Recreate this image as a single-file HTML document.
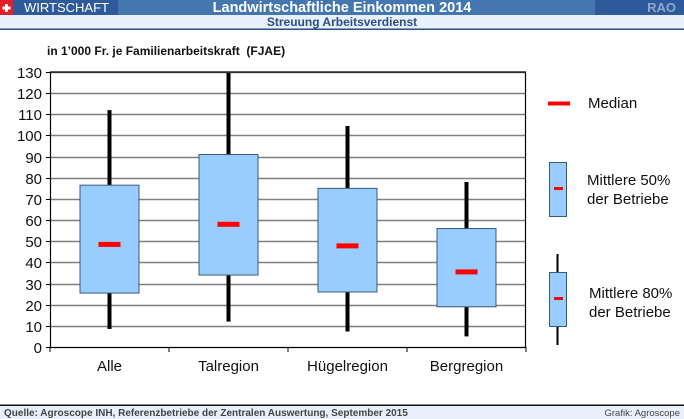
<!DOCTYPE html>
<html><head><meta charset="utf-8"><style>
body{margin:0;width:684px;height:419px;overflow:hidden;background:#fff;font-family:"Liberation Sans",Arial,sans-serif;}
svg{display:block}
</style></head><body>
<svg id="c" width="684" height="419" xmlns="http://www.w3.org/2000/svg">
  <rect x="0" y="0" width="684" height="15" fill="#4477b0"/>
  <rect x="0" y="0" width="118" height="15" fill="#2e5a9c"/>
  <rect x="0" y="0" width="13" height="15" fill="#e41e26"/>
  <rect x="5" y="4" width="3" height="8" fill="#fff"/><rect x="2.5" y="6.5" width="8" height="3" fill="#fff"/>
  <text x="24" y="12" font-size="13" fill="#fff">WIRTSCHAFT</text>
  <rect x="595" y="0" width="89" height="15" fill="#2e5a9c"/>
  <text x="676" y="12" font-size="13" font-weight="bold" fill="#8fa9cc" text-anchor="end">RAO</text>
  <text x="342" y="12" font-size="14.5" font-weight="bold" fill="#fff" text-anchor="middle">Landwirtschaftliche Einkommen 2014</text>
  <rect x="0" y="15" width="684" height="14" fill="#e8f0fc"/>
  <rect x="0" y="28.5" width="684" height="1.5" fill="#2b4f8a"/>
  <text x="342" y="26" font-size="12" font-weight="bold" fill="#2b4f8a" text-anchor="middle">Streuung Arbeitsverdienst</text>
  <text x="47" y="55" font-size="12" font-weight="bold" fill="#111">in 1’000 Fr. je Familienarbeitskraft&#160; (FJAE)</text>
  <g id="plot"></g>
  <g id="legend">
    <rect x="548" y="101.5" width="22" height="4" fill="#ff0000"/>
    <text x="588" y="108" font-size="15" fill="#111">Median</text>
    <rect x="549.5" y="162.5" width="17" height="54" fill="#99ccff" stroke="#3a5a7a" stroke-width="1"/>
    <rect x="554" y="187" width="9" height="3" fill="#ff0000"/>
    <text x="587" y="185" font-size="15" fill="#111">Mittlere 50%</text>
    <text x="587" y="204" font-size="15" fill="#111">der Betriebe</text>
    <line x1="557.5" y1="254" x2="557.5" y2="345" stroke="#000" stroke-width="2"/>
    <rect x="549.5" y="272.5" width="17" height="54" fill="#99ccff" stroke="#3a5a7a" stroke-width="1"/>
    <rect x="554" y="297" width="9" height="3" fill="#ff0000"/>
    <text x="589" y="298" font-size="15" fill="#111">Mittlere 80%</text>
    <text x="589" y="317" font-size="15" fill="#111">der Betriebe</text>
  </g>
  <rect x="0" y="404.5" width="684" height="1.5" fill="#111"/>
  <rect x="0" y="406" width="684" height="13" fill="#e8f0fc"/>
  <text x="4" y="416" font-size="10" font-weight="bold" fill="#444">Quelle: Agroscope INH, Referenzbetriebe der Zentralen Auswertung, September 2015</text>
  <text x="680" y="416" font-size="9.5" fill="#444" text-anchor="end">Grafik: Agroscope</text>
</svg>
<script>
const categories=["Alle","Talregion","Hügelregion","Bergregion"];
const p10=[8.5,12,7.3,5];
const q1=[25.5,34,26,19];
const median=[48.5,58,47.8,35.5];
const q3=[76.5,91,75,56];
const p90=[112,129.5,104.5,78];
const yTicks=[0,10,20,30,40,50,60,70,80,90,100,110,120,130];
const NS="http://www.w3.org/2000/svg";
const L=50,R=526,T=72,B=347,yMax=130;
const y=v=>B-(v/yMax)*(B-T);
const bw=(R-L)/categories.length;
const xc=i=>L+bw*(i+0.5);
const g=document.getElementById('plot');
function mk(tag,attrs){const e=document.createElementNS(NS,tag);for(const k in attrs)e.setAttribute(k,attrs[k]);g.appendChild(e);return e;}
yTicks.forEach(t=>{
  const yy=Math.round(y(t))+0.5;
  if(t>0){const l=mk('line',{x1:L,x2:R,y1:yy,y2:yy,stroke:'#808080','stroke-width':1.5});
  
  }
  mk('line',{x1:L-4,x2:L,y1:yy,y2:yy,stroke:'#000','stroke-width':1});
  const tx=mk('text',{x:L-8,y:yy+5.5,'font-size':15,'text-anchor':'end',fill:'#111'});
  tx.textContent=t;
  
  
});
const ax=mk('path',{d:`M${L+0.5},${T} V${B+0.5} H${R-0.5} V${T} H${L}`,fill:'none',stroke:'#000','stroke-width':1.2});


for(let i=0;i<=categories.length;i++){const xx=L+bw*i;mk('line',{x1:xx,x2:xx,y1:B,y2:B+5,stroke:'#000','stroke-width':1});}
categories.forEach((c,i)=>{
  const x=xc(i);
  const w=mk('line',{x1:x,x2:x,y1:y(p90[i]),y2:y(p10[i]),stroke:'#000','stroke-width':4});
  
  
  const b=mk('rect',{x:x-29.5,y:y(q3[i]),width:59,height:y(q1[i])-y(q3[i]),fill:'#99ccff',stroke:'#3a5a7a','stroke-width':1});
  
  
  const m=mk('rect',{x:x-11,y:y(median[i])-2.5,width:22,height:5,fill:'#ff0000'});
  
  
  const tl=mk('text',{x:x,y:B+24,'font-size':15,'text-anchor':'middle',fill:'#111'});
  tl.textContent=c;
  
  
});
</script>
</body></html>
